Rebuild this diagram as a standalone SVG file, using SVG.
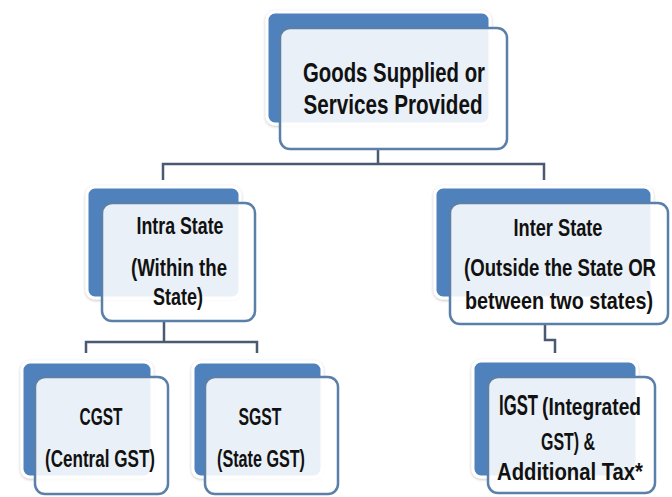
<svg xmlns="http://www.w3.org/2000/svg" width="672" height="497" viewBox="0 0 672 497">
<defs>
<filter id="sh" x="-10%" y="-10%" width="120%" height="120%">
<feDropShadow dx="0" dy="1" stdDeviation="1.5" flood-color="#000" flood-opacity="0.25"/>
</filter>
<style>
.back{fill:#4f81bd;stroke:#ffffff;stroke-width:3;filter:url(#sh)}
.front{fill:#ffffff;fill-opacity:0.88;stroke:#5a7fa8;stroke-width:2.5}
.conn{fill:none;stroke:#4a5a72;stroke-width:2.5}
text{font-family:"Liberation Sans",Arial,sans-serif;font-weight:bold;fill:#111111;text-anchor:middle}
.t1{font-size:28px}
.t2{font-size:24px}
.s{text-anchor:start}
</style>
</defs>
<rect width="672" height="497" fill="#ffffff"/>
<g id="connectors">
<polyline class="conn" points="378,149 378,164"/>
<polyline class="conn" points="163,180 163,164 544,164 544,180"/>
<polyline class="conn" points="164,321 164,342"/>
<polyline class="conn" points="86,353 86,342 257,342 257,353"/>
<polyline class="conn" points="545,324 545,340 555,340 555,353"/>
</g>
<g id="node-goods">
<rect class="back" x="267" y="12" width="223" height="112" rx="8"/>
<rect class="front" x="280" y="28" width="227" height="121" rx="10"/>
<text class="t1" x="394" y="82" textLength="182" lengthAdjust="spacingAndGlyphs">Goods Supplied or</text>
<text class="t1" x="393" y="114" textLength="179" lengthAdjust="spacingAndGlyphs">Services Provided</text>
</g>
<g id="node-intra">
<rect class="back" x="87" y="187" width="153" height="111" rx="8"/>
<rect class="front" x="102" y="203" width="153" height="118" rx="10"/>
<text class="t2" x="180" y="234" textLength="87" lengthAdjust="spacingAndGlyphs">Intra State</text>
<text class="t2" x="179" y="276" textLength="96" lengthAdjust="spacingAndGlyphs">(Within the</text>
<text class="t2" x="178" y="305" textLength="50" lengthAdjust="spacingAndGlyphs">State)</text>
</g>
<g id="node-inter">
<rect class="back" x="435" y="187" width="217" height="111" rx="8"/>
<rect class="front" x="450" y="203" width="218" height="121" rx="10"/>
<text class="t2" x="558" y="236" textLength="89" lengthAdjust="spacingAndGlyphs">Inter State</text>
<text class="t2" x="560" y="276" textLength="192" lengthAdjust="spacingAndGlyphs">(Outside the State OR</text>
<text class="t2" x="559" y="309" textLength="188" lengthAdjust="spacingAndGlyphs">between two states)</text>
</g>
<g id="node-cgst">
<rect class="back" x="22" y="362" width="130" height="115" rx="8"/>
<rect class="front" x="35" y="377" width="133" height="117" rx="10"/>
<text class="t2" x="101" y="425" textLength="43" lengthAdjust="spacingAndGlyphs">CGST</text>
<text class="t2" x="100" y="467" textLength="110" lengthAdjust="spacingAndGlyphs">(Central GST)</text>
</g>
<g id="node-sgst">
<rect class="back" x="193" y="362" width="129" height="115" rx="8"/>
<rect class="front" x="205" y="377" width="133" height="117" rx="10"/>
<text class="t2" x="260" y="425" textLength="43" lengthAdjust="spacingAndGlyphs">SGST</text>
<text class="t2" x="261" y="467" textLength="88" lengthAdjust="spacingAndGlyphs">(State GST)</text>
</g>
<g id="node-igst">
<rect class="back" x="473" y="361" width="164" height="116" rx="8"/>
<rect class="front" x="488" y="377" width="167" height="116" rx="10"/>
<text class="s" x="499" y="415" style="font-size:29px" textLength="39" lengthAdjust="spacingAndGlyphs">IGST</text>
<text class="t2 s" x="542" y="415" textLength="99" lengthAdjust="spacingAndGlyphs">(Integrated</text>
<text class="t2" x="568" y="450" textLength="54" lengthAdjust="spacingAndGlyphs">GST) &amp;</text>
<text class="t2" x="570" y="480" textLength="146" lengthAdjust="spacingAndGlyphs">Additional Tax*</text>
</g>
</svg>
